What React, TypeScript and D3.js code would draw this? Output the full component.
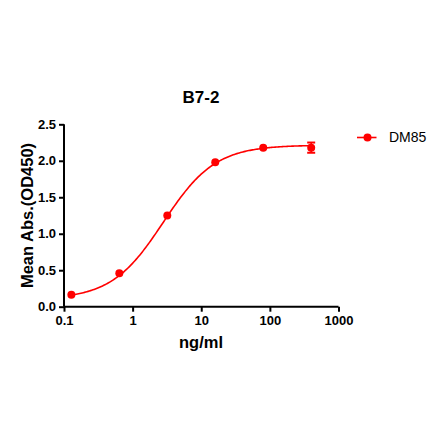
import { useEffect, useRef } from "react"
import * as d3 from "d3"

// concentrations (ng/ml) and mean absorbance
const concentrations = [0.128, 0.64, 3.2, 16, 80, 400]
const meanAbs = [0.165, 0.46, 1.25, 1.98, 2.18, 2.18]
const errAbs = [0, 0, 0, 0, 0, 0.07]

// 4PL fit parameters (bottom, top, EC50, hill)
const fitBottom = 0.1
const fitTop = 2.215
const fitEC50 = 2.8
const fitHill = 1.15

const xTicks = [0.1, 1, 10, 100, 1000]
const xTickLabels = ["0.1", "1", "10", "100", "1000"]
const yTicks = [0, 0.5, 1, 1.5, 2, 2.5]

const seriesName = "DM85"
const title = "B7-2"

export default function App() {
  const svgRef = useRef<SVGSVGElement>(null)

  useEffect(() => {
    const svg = d3.select(svgRef.current)
    svg.selectAll("*").remove()

    const font = "'Liberation Sans', Arial, sans-serif"
    const red = "#ff0000"

    const x = d3.scaleLog().domain([0.1, 1000]).range([64, 338.5])
    const y = d3.scaleLinear().domain([0, 2.5]).range([306.7, 124.3])

    // title
    svg.append("text")
      .attr("x", 201).attr("y", 102.7)
      .attr("text-anchor", "middle")
      .attr("font-family", font).attr("font-weight", "bold").attr("font-size", 17)
      .text(title)

    // x axis
    const xAxis = svg.append("g")
      .attr("transform", `translate(0,${y(0)})`)
      .call(d3.axisBottom(x).tickValues(xTicks).tickSize(5).tickPadding(4)
        .tickFormat((d, i) => xTickLabels[i]))
    xAxis.select(".domain").attr("stroke-width", 2).attr("d", `M${x(0.1)},0H${x(1000)}`)
    xAxis.selectAll("line").attr("stroke-width", 2)
    xAxis.selectAll("text")
      .attr("font-family", font).attr("font-weight", "bold").attr("font-size", 13).attr("fill", "#000")

    // y axis
    const yAxis = svg.append("g")
      .attr("transform", `translate(${x(0.1)},0)`)
      .call(d3.axisLeft(y).tickValues(yTicks).tickSize(5).tickPadding(3)
        .tickFormat(d3.format(".1f")))
    yAxis.select(".domain").attr("stroke-width", 2).attr("d", `M0,${y(0)}V${y(2.5)}`)
    yAxis.selectAll("line").attr("stroke-width", 2)
    yAxis.selectAll("text")
      .attr("font-family", font).attr("font-weight", "bold").attr("font-size", 13).attr("fill", "#000")

    // axis titles
    svg.append("text")
      .attr("x", 201).attr("y", 348)
      .attr("text-anchor", "middle")
      .attr("font-family", font).attr("font-weight", "bold").attr("font-size", 16.5)
      .text("ng/ml")

    svg.append("text")
      .attr("transform", `translate(33,${y(1.25)}) rotate(-90)`)
      .attr("text-anchor", "middle")
      .attr("font-family", font).attr("font-weight", "bold").attr("font-size", 16.5)
      .text("Mean Abs.(OD450)")

    // fitted curve
    const fit = (c: number) =>
      fitBottom + (fitTop - fitBottom) / (1 + Math.pow(fitEC50 / c, fitHill))
    const logMin = Math.log10(concentrations[0])
    const logMax = Math.log10(concentrations[concentrations.length - 1])
    const curveX = d3.range(0, 201).map(i => Math.pow(10, logMin + (logMax - logMin) * i / 200))
    svg.append("path")
      .attr("d", d3.line<number>().x(c => x(c)).y(c => y(fit(c)))(curveX)!)
      .attr("fill", "none").attr("stroke", red).attr("stroke-width", 1.6)

    // error bars
    concentrations.forEach((c, i) => {
      if (!errAbs[i]) return
      const g = svg.append("g").attr("stroke", red).attr("stroke-width", 1.6)
      const cx = x(c)
      g.append("line").attr("x1", cx).attr("x2", cx)
        .attr("y1", y(meanAbs[i] - errAbs[i])).attr("y2", y(meanAbs[i] + errAbs[i]))
      ;[meanAbs[i] - errAbs[i], meanAbs[i] + errAbs[i]].forEach(v => {
        g.append("line").attr("x1", cx - 4).attr("x2", cx + 4).attr("y1", y(v)).attr("y2", y(v))
          .attr("stroke-width", 2)
      })
    })

    // points
    svg.selectAll(".pt")
      .data(concentrations)
      .enter()
      .append("circle")
      .attr("cx", d => x(d))
      .attr("cy", (d, i) => y(meanAbs[i]))
      .attr("r", 4)
      .attr("fill", red)

    // legend
    const legend = svg.append("g").attr("transform", "translate(357,137.5)")
    legend.append("line").attr("x1", 0).attr("x2", 19.5).attr("y1", 0).attr("y2", 0)
      .attr("stroke", red).attr("stroke-width", 1.6)
    legend.append("circle").attr("cx", 10.5).attr("cy", 0).attr("r", 4).attr("fill", red)
    legend.append("text")
      .attr("x", 32).attr("y", 0).attr("dy", "0.35em")
      .attr("font-family", font).attr("font-size", 14)
      .text(seriesName)
  }, [])

  return (
    <svg ref={svgRef} width={440} height={441}
      style={{ position: "absolute", left: 0, top: 0, background: "#fff" }} />
  )
}
